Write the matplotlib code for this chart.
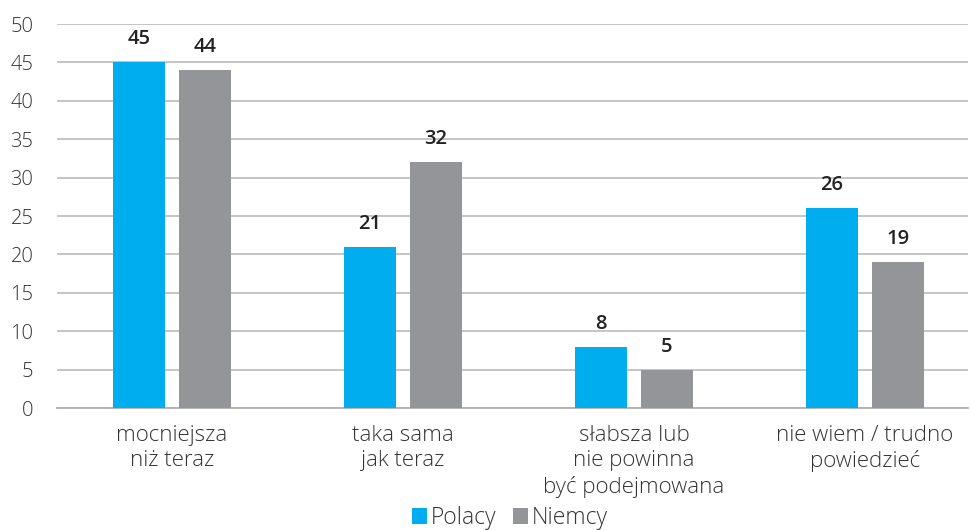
import matplotlib
matplotlib.use("Agg")
import matplotlib.pyplot as plt
import numpy as np

categories = ["mocniejsza\nniż teraz", "taka sama\njak teraz", "słabsza lub\nnie powinna\nbyć podejmowana", "nie wiem / trudno\npowiedzieć"]
polacy = [45, 21, 8, 26]
niemcy = [44, 32, 5, 19]
series_names = ["Polacy", "Niemcy"]
yticks = [0, 5, 10, 15, 20, 25, 30, 35, 40, 45, 50]

plt.rcParams['font.family'] = ['Open Sans', 'DejaVu Sans']

W, H = 971, 530
fig = plt.figure(figsize=(W/100, H/100), dpi=100)
ax = fig.add_axes([57/W, (H-408)/H, (968-57)/W, (408-24)/H])

x = np.arange(len(categories))
bw = 0.225
off = 0.143
blue = "#00AEEF"
gray = "#939598"
b1 = ax.bar(x - off, polacy, bw, color=blue, label=series_names[0], zorder=3)
b2 = ax.bar(x + off, niemcy, bw, color=gray, label=series_names[1], zorder=3)

for bars, vals in ((b1, polacy), (b2, niemcy)):
    for r, v in zip(bars, vals):
        ax.text(r.get_x() + r.get_width()/2, v + 1.7, str(v), ha='center', va='bottom',
                fontsize=14.5, fontweight='semibold', color='#222222')

ax.set_ylim(0, 50)
ax.set_xlim(-0.498, 3.446)
ax.set_yticks(yticks)
ax.yaxis.grid(True, color='#c0c0c0', linewidth=1.3, zorder=0)
ax.set_axisbelow(True)
for s in ['top', 'right', 'left']:
    ax.spines[s].set_visible(False)
ax.spines['bottom'].set_color('#b0b0b0')
ax.spines['bottom'].set_linewidth(1.3)
ax.tick_params(axis='y', length=0, pad=17, labelsize=14.5, labelcolor='#333333')
ax.tick_params(axis='x', length=0, pad=12, labelsize=16, labelcolor='#333333')
ax.set_xticks(x)
ax.set_xticklabels(categories, linespacing=1.28, fontweight='light')
for lab in ax.get_yticklabels():
    lab.set_fontweight('light')

leg = fig.legend(handles=[b1, b2], labels=series_names, loc='center', bbox_to_anchor=(510/W, 1-518/H),
                 ncol=2, frameon=False, handlelength=0.65, handleheight=0.65,
                 handletextpad=0.2, columnspacing=0.7, labelcolor='#333333',
                 prop={'family': ['Open Sans', 'DejaVu Sans'], 'weight': 'light', 'size': 16.5})

fig.savefig("out.png", dpi=100)
